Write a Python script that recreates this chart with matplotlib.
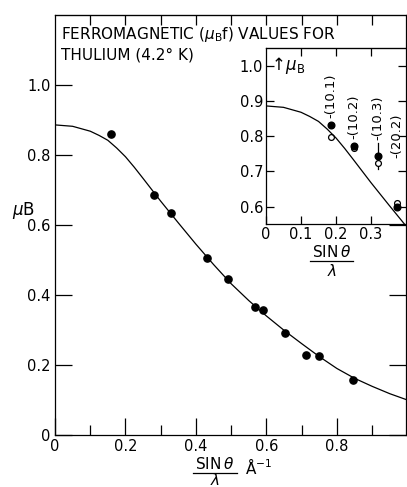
import matplotlib.pyplot as plt
from matplotlib.lines import Line2D

plt.rcParams["font.family"] = "DejaVu Sans"
plt.rcParams["mathtext.fontset"] = "dejavusans"

# main panel: measured mu_B f against sin(theta)/lambda
s_meas = [0.159, 0.281, 0.328, 0.431, 0.490, 0.568, 0.589, 0.654, 0.713, 0.748, 0.847]
mu_meas = [0.861, 0.687, 0.635, 0.507, 0.446, 0.366, 0.356, 0.291, 0.229, 0.225, 0.156]

# calculated curve
s_curve = [0.00, 0.05, 0.10, 0.125, 0.15, 0.175, 0.20, 0.225, 0.25, 0.30, 0.35, 0.40,
           0.45, 0.50, 0.55, 0.60, 0.65, 0.70, 0.75, 0.80, 0.85, 0.90, 0.95, 1.00]
mu_curve = [0.886, 0.882, 0.868, 0.856, 0.842, 0.820, 0.795, 0.765, 0.733, 0.668, 0.606,
            0.545, 0.487, 0.432, 0.384, 0.340, 0.299, 0.261, 0.224, 0.190, 0.162, 0.139,
            0.118, 0.100]

# inset: low angle reflections
refl = ["(10.1)", "(10.2)", "(10.3)", "(20.2)"]
s_refl = [0.186, 0.250, 0.319, 0.375]
mu_filled = [0.831, 0.773, 0.743, 0.600]
mu_open = [0.798, 0.766, 0.724, 0.610]
err_103 = (0.708, 0.780)

main_xticks = [0, 0.2, 0.4, 0.6, 0.8]
main_xlabels = ["0", "0.2", "0.4", "0.6", "0.8"]
main_yticks = [0, 0.2, 0.4, 0.6, 0.8, 1.0]
main_ylabels = ["0", "0.2", "0.4", "0.6", "0.8", "1.0"]
ins_xticks = [0, 0.1, 0.2, 0.3]
ins_xlabels = ["0", "0.1", "0.2", "0.3"]
ins_yticks = [0.6, 0.7, 0.8, 0.9, 1.0]
ins_ylabels = ["0.6", "0.7", "0.8", "0.9", "1.0"]

W, H = 407, 487
fig = plt.figure(figsize=(W / 100, H / 100), dpi=100)

def fx(px):
    return px / W

def fy(py):
    return 1 - py / H

# ---- main axes ----
ax = fig.add_axes([fx(55), fy(435), (406 - 55) / W, (435 - 15) / H])
ax.plot(s_curve, mu_curve, color="black", lw=0.9)
ax.plot(s_meas, mu_meas, "o", color="black", ms=5.2)
ax.set_xlim(0, 0.996)
ax.set_ylim(0, 1.2)
ax.set_xticks(main_xticks, main_xlabels)
ax.set_xticks([0.1, 0.3, 0.5, 0.7, 0.9], minor=True)
ax.set_yticks(main_yticks, main_ylabels)
ax.tick_params(axis="both", which="major", direction="in", length=12, width=0.9,
               labelsize=10.5, pad=3, top=False, right=True)
ax.tick_params(axis="x", which="minor", direction="in", length=7, width=0.9, top=False)
for sp in ax.spines.values():
    sp.set_linewidth(0.9)

# top edge ticks every 0.1 (short)
top = ax.secondary_xaxis("top")
top.set_xticks([0.1, 0.2, 0.3, 0.4, 0.5, 0.6, 0.7, 0.8, 0.9], [""] * 9)
top.tick_params(direction="in", length=7, width=0.9)

ax.text(0.017, 1.145, r"FERROMAGNETIC ($\mu_{\rm B}$f) VALUES FOR", fontsize=11,
        ha="left", va="center")
ax.text(0.017, 1.085, "THULIUM (4.2° K)", fontsize=11, ha="left", va="center")

fig.text(fx(24), fy(210), r"$\mu$B", fontsize=12, ha="center", va="center")

# x label as a fraction
fig.text(fx(215), fy(464), r"SIN$\,\theta$", fontsize=11, ha="center", va="center")
fig.add_artist(Line2D([fx(193), fx(237)], [fy(473), fy(473)], color="black", lw=0.9))
fig.text(fx(215), fy(480), r"$\lambda$", fontsize=11, ha="center", va="center")
fig.text(fx(245), fy(467), r"Å$^{-1}$", fontsize=11, ha="left", va="center")

# ---- inset ----
ins = fig.add_axes([fx(266), fy(224), (406 - 266) / W, (224 - 47.7) / H])
ins.set_facecolor("white")
ins.plot(s_curve, mu_curve, color="black", lw=0.9)
ins.plot(s_refl, mu_filled, "o", color="black", ms=4.8)
ins.plot(s_refl, mu_open, "o", mfc="white", mec="black", mew=0.9, ms=4.2, zorder=1.5)
ins.plot([s_refl[2], s_refl[2]], err_103, color="black", lw=0.9, zorder=1)
ins.set_xlim(0, 0.4)
ins.set_ylim(0.5506, 1.0514)
ins.set_xticks(ins_xticks, ins_xlabels)
ins.set_yticks(ins_yticks, ins_ylabels)
ins.tick_params(axis="both", direction="in", length=6, width=0.9, labelsize=10.5,
                pad=2, right=True)
ins_top = ins.secondary_xaxis("top")
ins_top.set_xticks([0.1, 0.2, 0.3], ["", "", ""])
ins_top.tick_params(direction="in", length=6, width=0.9)
for sp in ins.spines.values():
    sp.set_linewidth(0.9)

label_y = [0.851, 0.793, 0.790, 0.739]
for name, s, ly in zip(refl, s_refl, label_y):
    ins.text(s, ly, "-" + name, rotation=90, ha="center", va="bottom", fontsize=9.5)

ins.text(0.006, 1.0, r"$\uparrow\!\mu_{\rm B}$", fontsize=12, ha="left", va="center")

fig.text(fx(332), fy(252), r"SIN$\,\theta$", fontsize=11, ha="center", va="center")
fig.add_artist(Line2D([fx(310), fx(353)], [fy(261), fy(261)], color="black", lw=0.9))
fig.text(fx(332), fy(271), r"$\lambda$", fontsize=11, ha="center", va="center")

fig.savefig("out.png", dpi=100)
